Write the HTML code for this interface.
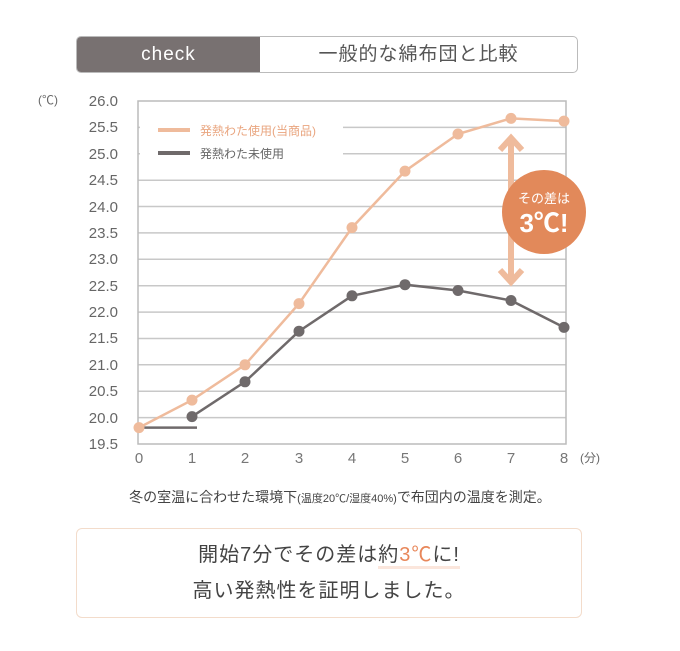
<!DOCTYPE html>
<html><head><meta charset="utf-8"><style>
body{margin:0;width:680px;height:651px;background:#fff;font-family:"Liberation Sans","Noto Sans CJK JP",sans-serif;position:relative;overflow:hidden}
.hdr{position:absolute;left:76px;top:36px;width:502px;height:37px;border:1px solid #bbb;border-radius:5px;overflow:hidden;box-sizing:border-box}
.hdr .a{position:absolute;left:0;top:0;width:183px;height:100%;background:#787171;color:#fff;font-size:19px;text-align:center;line-height:36px;letter-spacing:1px}
.hdr .b{position:absolute;left:183px;right:0;top:0;height:100%;text-align:center;line-height:35px;font-size:19px;color:#555;letter-spacing:1px}
.box{position:absolute;left:76px;top:528px;width:506px;height:90px;border:1px solid #f3dccb;border-radius:6px;box-sizing:border-box;text-align:center;color:#444;font-size:20px;line-height:36px;padding-top:8px;letter-spacing:1px}
</style></head><body>
<div class="hdr"><div class="a">check</div><div class="b">一般的な綿布団と比較</div></div>
<svg width="680" height="651" style="position:absolute;left:0;top:0">
<g stroke="#c8c8c8" stroke-width="1.5">
<line x1="138" y1="127.4" x2="566" y2="127.4"/><line x1="138" y1="153.8" x2="566" y2="153.8"/><line x1="138" y1="180.2" x2="566" y2="180.2"/><line x1="138" y1="206.5" x2="566" y2="206.5"/><line x1="138" y1="232.9" x2="566" y2="232.9"/><line x1="138" y1="259.3" x2="566" y2="259.3"/><line x1="138" y1="285.7" x2="566" y2="285.7"/><line x1="138" y1="312.1" x2="566" y2="312.1"/><line x1="138" y1="338.5" x2="566" y2="338.5"/><line x1="138" y1="364.8" x2="566" y2="364.8"/><line x1="138" y1="391.2" x2="566" y2="391.2"/><line x1="138" y1="417.6" x2="566" y2="417.6"/>
</g>
<rect x="138" y="101" width="428" height="343" fill="none" stroke="#bbb" stroke-width="1.5"/>
<rect x="140" y="108" width="203" height="70" fill="#fff"/>
<line x1="158" y1="130" x2="190" y2="130" stroke="#efbb9c" stroke-width="4"/>
<line x1="158" y1="153" x2="190" y2="153" stroke="#6f6a6b" stroke-width="4"/>
<text x="200" y="135" font-size="12" fill="#e9a57f">発熱わた使用(当商品)</text>
<text x="200" y="158" font-size="12" fill="#666">発熱わた未使用</text>
<g font-size="15" fill="#666" text-anchor="end">
<text x="118" y="106">26.0</text><text x="118" y="132">25.5</text><text x="118" y="159">25.0</text><text x="118" y="185">24.5</text><text x="118" y="212">24.0</text><text x="118" y="238">23.5</text><text x="118" y="264">23.0</text><text x="118" y="291">22.5</text><text x="118" y="317">22.0</text><text x="118" y="343">21.5</text><text x="118" y="370">21.0</text><text x="118" y="396">20.5</text><text x="118" y="423">20.0</text><text x="118" y="449">19.5</text>
</g>
<text x="38" y="104" font-size="12" fill="#666">(℃)</text>
<g font-size="15" fill="#777" text-anchor="middle">
<text x="139" y="463">0</text><text x="192" y="463">1</text><text x="245" y="463">2</text><text x="299" y="463">3</text><text x="352" y="463">4</text><text x="405" y="463">5</text><text x="458" y="463">6</text><text x="511" y="463">7</text><text x="564" y="463">8</text>
</g>
<text x="580" y="462" font-size="12" fill="#666">(分)</text>
<line x1="139" y1="427.6" x2="197" y2="427.6" stroke="#6f6a6b" stroke-width="2.5"/>
<polyline fill="none" stroke="#6f6a6b" stroke-width="2.5" points="192,416.6 245,381.8 299,331.2 352,295.8 405,284.7 458,290.5 511,300.5 564,327.4"/>
<g fill="#6f6a6b"><circle cx="192" cy="416.6" r="5.5"/><circle cx="245" cy="381.8" r="5.5"/><circle cx="299" cy="331.2" r="5.5"/><circle cx="352" cy="295.8" r="5.5"/><circle cx="405" cy="284.7" r="5.5"/><circle cx="458" cy="290.5" r="5.5"/><circle cx="511" cy="300.5" r="5.5"/><circle cx="564" cy="327.4" r="5.5"/></g>
<polyline fill="none" stroke="#efbb9c" stroke-width="2.5" points="139,427.6 192,400.1 245,364.8 299,303.6 352,227.6 405,171.1 458,134 511,118.4 564,121.1"/>
<g fill="#efbb9c"><circle cx="139" cy="427.6" r="5.5"/><circle cx="192" cy="400.1" r="5.5"/><circle cx="245" cy="364.8" r="5.5"/><circle cx="299" cy="303.6" r="5.5"/><circle cx="352" cy="227.6" r="5.5"/><circle cx="405" cy="171.1" r="5.5"/><circle cx="458" cy="134" r="5.5"/><circle cx="511" cy="118.4" r="5.5"/><circle cx="564" cy="121.1" r="5.5"/></g>
<g stroke="#efbb9c" stroke-width="6" fill="none">
<line x1="511" y1="138" x2="511" y2="282"/>
<polyline points="500,150 511,138 522,150"/>
<polyline points="500,270 511,282 522,270"/>
</g>
<circle cx="544" cy="212" r="42" fill="#e2895a"/>
<text x="544" y="203" font-size="13" fill="#fff" text-anchor="middle">その差は</text>
<text x="544" y="232" font-size="26" font-weight="bold" fill="#fff" text-anchor="middle">3℃!</text>
<text x="340" y="502" font-size="14" fill="#444" text-anchor="middle">冬の室温に合わせた環境下<tspan font-size="11">(温度20℃/湿度40%)</tspan>で布団内の温度を測定。</text>
</svg>
<div class="box">開始7分でその差は<span style="border-bottom:3px solid #fbe6dc">約<span style="color:#e8875a">3℃</span>に!</span><br>高い発熱性を証明しました。</div>
</body></html>
